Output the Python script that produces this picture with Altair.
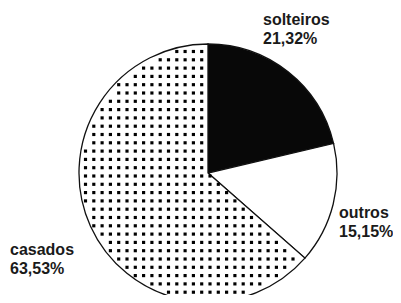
import altair as alt
import pandas as pd

categories = ["solteiros", "outros", "casados"]
shares = [21.32, 15.15, 63.53]
labels = ["21,32%", "15,15%", "63,53%"]
fills = ["#080808", "#ffffff", "#ffffff"]
order = [0, 1, 2]

df = pd.DataFrame({"cat": categories, "share": shares, "ord": order, "fill": fills})

W, H = 385, 287
CX, CY, R = 200, 165, 129

pie = alt.Chart(df).mark_arc(
    outerRadius=R, stroke="#111111", strokeWidth=1.3, x=CX, y=CY
).encode(
    theta=alt.Theta("share:Q", stack=True),
    order=alt.Order("ord:Q"),
    fill=alt.Fill("fill:N", scale=None, legend=None),
)

# dotted texture for the "casados" slice
start = 360 * (shares[0] + shares[1]) / 100
pitch = 8.3
n = 34
x0 = CX - n / 2 * pitch + 2
y0 = CY - n / 2 * pitch + 3
dots = alt.Chart(alt.sequence(0, n * n, as_="i")).transform_calculate(
    px=f"{x0} + (datum.i % {n}) * {pitch}",
    py=f"{y0} + floor(datum.i / {n}) * {pitch}",
).transform_calculate(
    ang=f"(atan2(datum.px - {CX}, {CY} - datum.py) * 180 / PI + 360) % 360",
    dist=f"sqrt(pow(datum.px - {CX}, 2) + pow(datum.py - {CY}, 2))",
).transform_filter(
    f"datum.dist < {R - 3} && datum.ang > {start + 1.5} && !(datum.px > {CX - 2.5} && datum.py < {CY})"
).mark_square(size=10, color="#000000", opacity=1).encode(
    x=alt.X("px:Q", scale=None, axis=None),
    y=alt.Y("py:Q", scale=None, axis=None),
)

label_pos = [(255, 17), (331, 210), (2, 247)]
texts = []
for i in range(len(categories)):
    lx, ly = label_pos[i]
    texts.append(
        alt.Chart(pd.DataFrame({"cat": [categories[i]]})).mark_text(
            text=[categories[i], labels[i]],
            align="left", baseline="alphabetic",
            font="Liberation Sans", fontWeight="bold", fontSize=16,
            lineHeight=19, color="#1a1a1a", x=lx, y=ly,
        )
    )

chart = alt.layer(pie, dots, *texts).properties(
    width=W, height=H,
    autosize=alt.AutoSizeParams(type="none"),
    padding=0,
).configure_view(stroke=None)

chart.save("out.html", embed_options={"renderer": "svg", "actions": False})
